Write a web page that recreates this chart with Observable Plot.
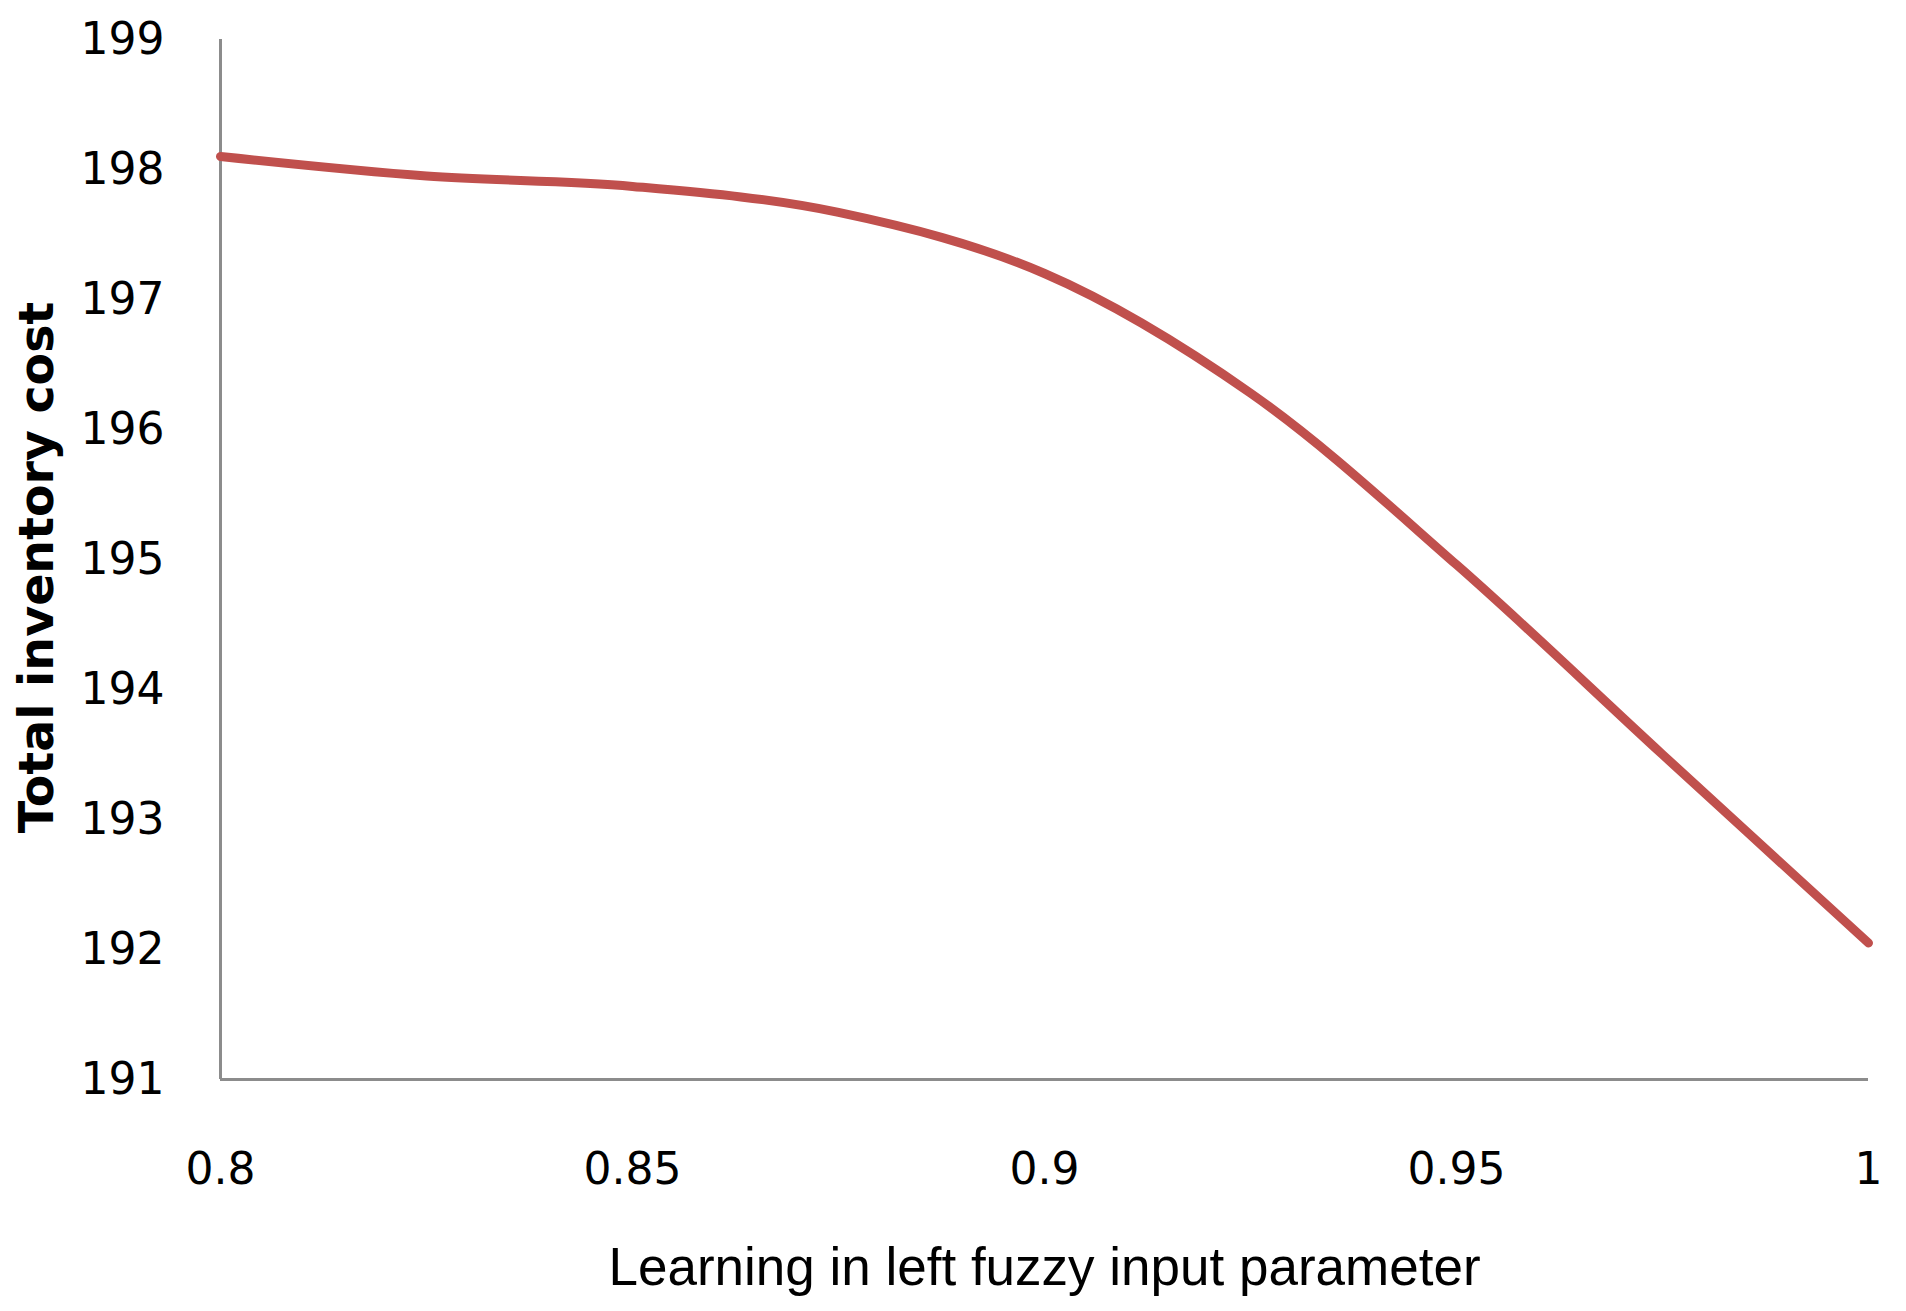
<!DOCTYPE html>
<html>
<head>
<meta charset="utf-8">
<script src="https://cdn.jsdelivr.net/npm/d3@7"></script>
<script src="https://cdn.jsdelivr.net/npm/@observablehq/plot@0.6"></script>
<style>
  html, body { margin: 0; padding: 0; background: #ffffff; }
</style>
</head>
<body>
<div id="chart"></div>
<script>
// Data
const learning = [0.8, 0.825, 0.85, 0.875, 0.9, 0.925, 0.95, 0.975, 1.0];
const totalCost = [198.10, 197.95, 197.87, 197.67, 197.20, 196.28, 194.96, 193.50, 192.05];
const xTicks = [0.8, 0.85, 0.9, 0.95, 1];
const yTicks = [191, 192, 193, 194, 195, 196, 197, 198, 199];
const xTitle = "Learning in left fuzzy input parameter";
const yTitle = "Total inventory cost";

const data = learning.map((x, i) => ({x, y: totalCost[i]}));

const chart = Plot.plot({
  width: 1906,
  height: 1311,
  marginLeft: 220,
  marginRight: 38,
  marginTop: 39,
  marginBottom: 232,
  style: {background: "#ffffff", fontFamily: "DejaVu Sans", color: "#000000"},
  x: {domain: [0.8, 1]},
  y: {domain: [191, 199]},
  marks: [
    Plot.axisY({ticks: yTicks, tickSize: 0, tickPadding: 56, fontSize: 44, fontFamily: "DejaVu Sans", label: null, tickFormat: d => String(d)}),
    Plot.axisX({ticks: xTicks, tickSize: 0, tickPadding: 73, fontSize: 44, fontFamily: "DejaVu Sans", label: null, tickFormat: d => String(d)}),
    Plot.ruleX([0.8], {stroke: "#8c8c8c", strokeWidth: 3}),
    Plot.ruleY([191], {stroke: "#8c8c8c", strokeWidth: 3}),
    Plot.line(data, {x: "x", y: "y", stroke: "#C0504D", strokeWidth: 9, curve: "catmull-rom"}),
    Plot.text([yTitle], {frameAnchor: "left", textAnchor: "middle", rotate: -90, dx: -183, dy: 8, fontSize: 47.5, fontWeight: "bold", fontFamily: "DejaVu Sans", fill: "#000000"}),
    Plot.text([xTitle], {frameAnchor: "bottom", dy: 205, fontSize: 53, fontFamily: "Liberation Sans", fill: "#000000"})
  ]
});
document.getElementById("chart").appendChild(chart);
</script>
</body>
</html>
